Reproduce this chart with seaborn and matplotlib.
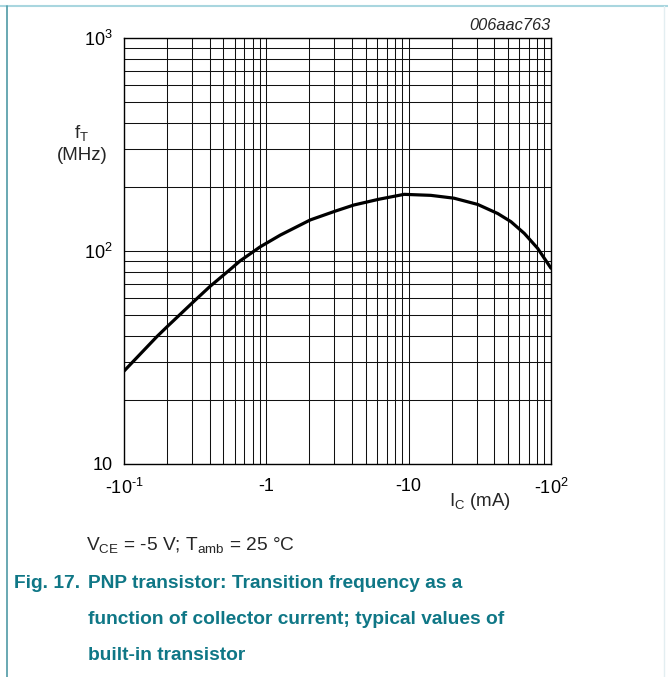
import matplotlib
matplotlib.use('Agg')
import matplotlib.pyplot as plt
import numpy as np
import seaborn as sns

# I_C (mA, magnitude) vs f_T (MHz)
ic = [0.1, 0.17, 0.2, 0.308, 0.4, 0.558, 0.656, 0.907, 1.255, 2.04, 3.06,
      4.12, 6.18, 9.3, 14.3, 20.8, 30.5, 42.2, 52.3, 64.9, 80.5, 100]
ft = [27.3, 39.6, 44, 57.8, 68, 82, 90, 104.7, 118.8, 140, 154,
      164.4, 175, 184.5, 182.5, 177, 165.5, 150, 137.3, 121, 103, 83]

xtick_vals = [0.1, 1, 10, 100]
xtick_labels = [r'-10$^{\text{-}1}$', '-1', '-10', r'-10$^{2}$']
ytick_vals = [10, 100, 1000]
ytick_labels = ['10', r'10$^{2}$', r'10$^{3}$']

sns.set_style('white')
plt.rcParams['font.family'] = ['Liberation Sans', 'DejaVu Sans']
plt.rcParams['mathtext.fontset'] = 'custom'
plt.rcParams['mathtext.rm'] = 'Liberation Sans'
plt.rcParams['mathtext.it'] = 'Liberation Sans:italic'
plt.rcParams['mathtext.bf'] = 'Liberation Sans:bold'

W, H = 668, 677
fig = plt.figure(figsize=(W / 100, H / 100), dpi=100)
ax = fig.add_axes([124 / W, 1 - 464 / H, 427 / W, 426 / H])

sns.lineplot(x=ic, y=ft, ax=ax, color='black', lw=2.3, sort=False)
ax.set_xscale('log')
ax.set_yscale('log')
ax.set_xlim(0.1, 100)
ax.set_ylim(10, 1000)

ax.set_xticks(xtick_vals)
ax.set_xticklabels(xtick_labels)
ax.set_yticks(ytick_vals)
ax.set_yticklabels(ytick_labels)
ax.tick_params(axis='both', which='both', length=0, labelsize=13, colors='black')
ax.tick_params(axis='x', pad=10)
ax.tick_params(axis='y', pad=8)

ax.grid(True, which='both', color='#111111', lw=0.75)
for s in ax.spines.values():
    s.set_color('black')
    s.set_linewidth(1.0)
ax.set_xlabel('')
ax.set_ylabel('')

# axis titles
fig.text(82 / W, 1 - 133 / H, 'f$_\\mathrm{T}$', ha='center', va='center', fontsize=13.5)
fig.text(82 / W, 1 - 155 / H, '(MHz)', ha='center', va='center', fontsize=13.5)
fig.text(480 / W, 1 - 502 / H, 'I$_\\mathrm{C}$ (mA)', ha='center', va='center',
         fontsize=13.5)
fig.text(551 / W, 1 - 25 / H, '006aac763', ha='right', va='center',
         fontsize=11.8, style='italic')

# conditions + caption
fig.text(86 / W, 1 - 545 / H, 'V$_\\mathrm{CE}$ = -5 V; T$_\\mathrm{amb}$ = 25 °C',
         ha='left', va='center', fontsize=13.8)
teal = '#0f7786'
fig.text(14 / W, 1 - 584 / H, 'Fig. 17.', ha='left', va='center', fontsize=13.8,
         fontweight='bold', color=teal)
cap_lines = ['PNP transistor: Transition frequency as a',
             'function of collector current; typical values of',
             'built-in transistor']
for i, line in enumerate(cap_lines):
    fig.text(88 / W, 1 - (584 + 36 * i) / H, line, ha='left', va='center',
             fontsize=13.8, fontweight='bold', color=teal)

# page frame lines
fig.add_artist(plt.Line2D([0, 1], [1 - 6 / H, 1 - 6 / H], color='#a9d6df', lw=1.5))
fig.add_artist(plt.Line2D([7 / W, 7 / W], [0, 1 - 6 / H], color='#4f9aa6', lw=1.2))
fig.add_artist(plt.Line2D([664 / W, 664 / W], [0, 1 - 6 / H], color='#e3eef1', lw=1.0))

fig.savefig('out.png', dpi=100)
